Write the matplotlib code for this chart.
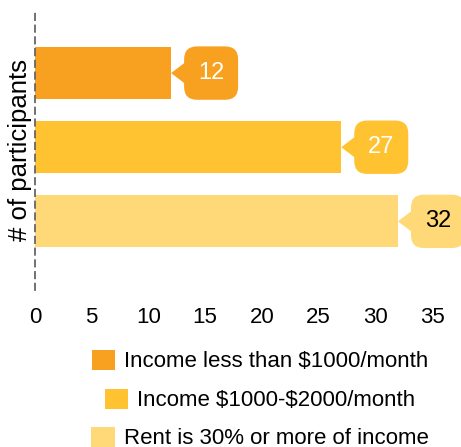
import matplotlib.pyplot as plt
from matplotlib.patches import FancyBboxPatch, Polygon

plt.rcParams['font.family'] = ['Liberation Sans', 'DejaVu Sans']
plt.rcParams['text.parse_math'] = False

# data
categories = ["Income less than $1000/month",
              "Income $1000-$2000/month",
              "Rent is 30% or more of income"]
values = [12, 27, 32]
colors = ["#F8A01F", "#FFC231", "#FFD878"]
label_colors = ["white", "white", "black"]
xticks = [0, 5, 10, 15, 20, 25, 30, 35]

W, H = 461, 447
fig = plt.figure(figsize=(W / 100, H / 100), dpi=100)
ax = fig.add_axes([35 / W, (H - 290) / H, (432 - 35) / W, 280 / H])

ypos = list(range(len(values)))
bars = ax.barh(ypos, values, height=0.70, color=colors, label=categories, zorder=2)

ax.set_xlim(0, 35)
ax.set_ylim(2.926, -0.851)
ax.set_xticks(xticks)
ax.tick_params(axis='x', length=0, labelsize=16, pad=12)
ax.set_yticks([])
ax.set_ylabel("# of participants", fontsize=18.5, labelpad=2)
for s in ["top", "right", "bottom"]:
    ax.spines[s].set_visible(False)
ax.spines["left"].set_linestyle((0, (3.5, 3)))
ax.spines["left"].set_color("#666666")
ax.spines["left"].set_linewidth(1.3)
ax.spines["left"].set_zorder(3)

# callout boxes
px_x = (432 - 35) / 35.0        # pixels per x unit
px_y = 280 / (2.926 + 0.851)     # pixels per y unit
aspect = px_x / px_y
gap = 13 / px_x
bw = 54 / px_x
bh = 0.72
tri = 12.5 / px_y
for y, v, c, tc in zip(ypos, values, colors, label_colors):
    x0 = v + gap
    box = FancyBboxPatch((x0, y - bh / 2), bw, bh,
                         boxstyle="round,pad=0,rounding_size=%f" % (13 / px_x),
                         mutation_aspect=aspect, fc=c, ec="none",
                         clip_on=False, zorder=2)
    ax.add_patch(box)
    ax.add_patch(Polygon([(v, y), (x0 + 0.3, y - tri), (x0 + 0.3, y + tri)],
                         closed=True, fc=c, ec="none", clip_on=False, zorder=2))
    ax.text(x0 + bw / 2, y, str(v), color=tc, fontsize=17,
            ha="center", va="center", zorder=3, clip_on=False)

# legend, one centred row per series
for bar, cat, yc in zip(bars, categories, [361, 400, 438]):
    fig.legend([bar], [cat], loc="center", bbox_to_anchor=(260 / W, (H - yc) / H),
               frameon=False, fontsize=16, handlelength=1.05, handleheight=1.05,
               handletextpad=0.4, borderpad=0, borderaxespad=0)

fig.savefig("out.png", dpi=100)
